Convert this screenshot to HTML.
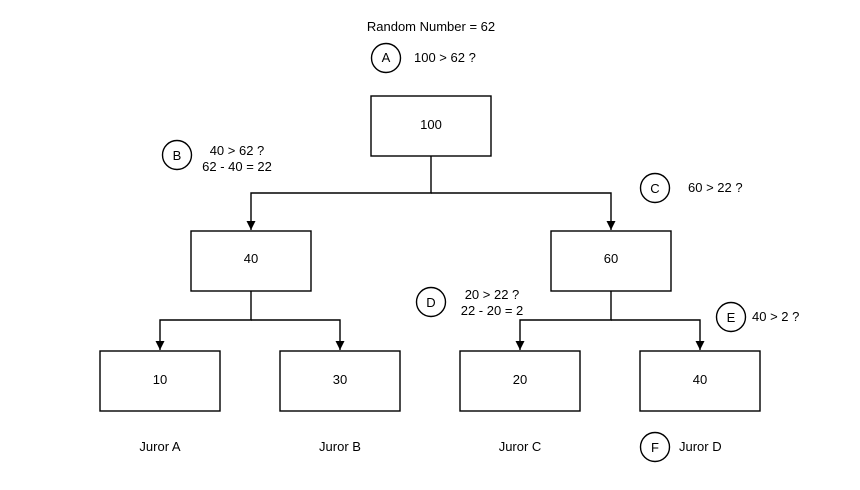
<!DOCTYPE html>
<html><head><style>body{margin:0;background:#fff}svg{display:block}text{font-family:"Liberation Sans",sans-serif;font-size:13px;fill:#000}</style></head><body>
<svg width="860" height="490" viewBox="0 0 860 490" xmlns="http://www.w3.org/2000/svg">
<defs><marker id="a" viewBox="0 0 10 10" refX="10" refY="5" markerWidth="12" markerHeight="9" markerUnits="userSpaceOnUse" orient="auto"><path d="M0,0L10,5L0,10z" fill="#000"/></marker></defs>
<g fill="none" stroke="#000" stroke-width="1.4">
<rect x="371" y="96" width="120" height="60"/>
<rect x="191" y="231" width="120" height="60"/>
<rect x="551" y="231" width="120" height="60"/>
<rect x="100" y="351" width="120" height="60"/>
<rect x="280" y="351" width="120" height="60"/>
<rect x="460" y="351" width="120" height="60"/>
<rect x="640" y="351" width="120" height="60"/>
<path d="M431,156V193H251V230" marker-end="url(#a)"/>
<path d="M431,193H611V230" marker-end="url(#a)"/>
<path d="M251,291V320H160V350" marker-end="url(#a)"/>
<path d="M251,320H340V350" marker-end="url(#a)"/>
<path d="M611,291V320H520V350" marker-end="url(#a)"/>
<path d="M611,320H700V350" marker-end="url(#a)"/>
<circle cx="386" cy="58" r="14.5"/>
<circle cx="177" cy="155" r="14.5"/>
<circle cx="655" cy="188" r="14.5"/>
<circle cx="431" cy="302" r="14.5"/>
<circle cx="731" cy="317" r="14.5"/>
<circle cx="655" cy="447" r="14.5"/>
</g>
<g text-anchor="middle">
<text x="431" y="31">Random Number = 62</text>
<text x="386" y="62">A</text><text x="177" y="160">B</text><text x="655" y="193">C</text>
<text x="431" y="307">D</text><text x="731" y="322">E</text><text x="655" y="452">F</text>
<text x="431" y="129">100</text><text x="251" y="263">40</text><text x="611" y="263">60</text>
<text x="160" y="384">10</text><text x="340" y="384">30</text><text x="520" y="384">20</text><text x="700" y="384">40</text>
<text x="160" y="451">Juror A</text><text x="340" y="451">Juror B</text><text x="520" y="451">Juror C</text>
<text x="237" y="155">40 &gt; 62 ?</text><text x="237" y="171">62 - 40 = 22</text>
<text x="492" y="299">20 &gt; 22 ?</text><text x="492" y="315">22 - 20 = 2</text>
</g>
<text x="414" y="62">100 &gt; 62 ?</text>
<text x="688" y="192">60 &gt; 22 ?</text>
<text x="752" y="321">40 &gt; 2 ?</text>
<text x="679" y="451">Juror D</text>
</svg>
</body></html>
